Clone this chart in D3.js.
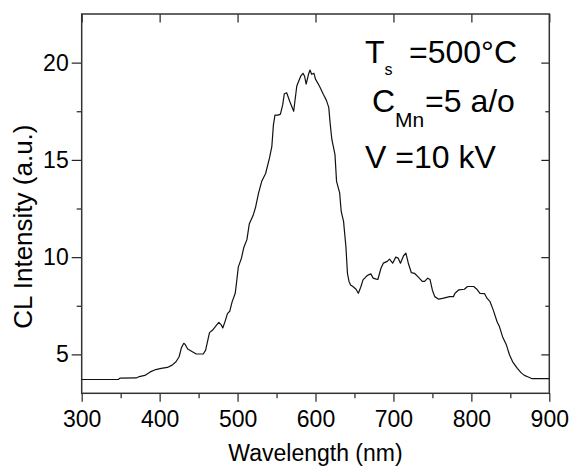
<!DOCTYPE html>
<html>
<head>
<meta charset="utf-8">
<script src="https://cdn.jsdelivr.net/npm/d3@7"></script>
<style>
  body { margin: 0; background: #fff; }
  svg { display: block; }
</style>
</head>
<body>
<div id="chart"></div>
<script>
// CL spectrum
const wavelength = [300, 347, 349, 370, 374, 381, 388, 395, 402, 410, 416, 421, 425, 428, 431, 433, 436, 442, 447, 456,
  459, 464, 468, 473, 476, 479, 481, 484, 487, 490, 493, 497, 499, 501, 505, 508, 512, 515, 520, 523,
  527, 531, 536, 541, 544, 546, 548, 552, 555, 558, 560, 563, 567, 572, 576, 581, 584, 586, 588, 591,
  593, 595, 598, 600, 605, 610, 614, 617, 619, 621, 625, 627, 631, 633, 636, 639, 641, 643, 645, 648,
  652, 655, 658, 661, 665, 668, 671, 674, 678, 680, 684, 687, 692, 695, 699, 703, 706, 709, 713, 716,
  719, 723, 727, 732, 737, 740, 744, 747, 750, 753, 758, 763, 767, 772, 777, 779, 784, 791, 795, 803,
  807, 811, 817, 820, 824, 828, 833, 836, 840, 845, 849, 853, 859, 864, 868, 873, 878, 900];
const intensity = [3.71, 3.71, 3.78, 3.79, 3.86, 3.92, 4.10, 4.22, 4.28, 4.33, 4.45, 4.62, 4.88, 5.35, 5.57, 5.50, 5.28, 5.14, 5.02, 5.02,
  5.22, 6.12, 6.25, 6.50, 6.65, 6.52, 6.36, 6.70, 7.10, 7.22, 7.70, 8.14, 8.80, 9.50, 9.95, 10.50, 10.90, 11.70, 12.15, 12.55,
  13.30, 13.90, 14.30, 15.10, 15.70, 16.80, 17.30, 17.30, 17.35, 17.85, 18.40, 18.45, 18.00, 17.50, 18.80, 19.30, 19.45, 19.30, 18.90, 19.40,
  19.62, 19.40, 19.45, 19.15, 18.80, 18.37, 18.06, 17.70, 16.80, 16.05, 15.27, 13.90, 13.30, 12.35, 11.84, 10.55, 9.17, 8.75, 8.57, 8.49,
  8.35, 8.14, 8.45, 8.83, 9.00, 9.09, 9.14, 8.92, 8.87, 8.85, 9.43, 9.69, 9.78, 9.90, 9.69, 10.00, 9.95, 9.69, 10.07, 10.20,
  9.70, 9.20, 9.17, 8.97, 8.75, 8.75, 8.92, 8.85, 8.30, 7.97, 7.84, 7.88, 7.92, 7.97, 7.97, 8.14, 8.32, 8.35, 8.49, 8.49,
  8.35, 8.14, 8.12, 7.89, 7.71, 7.29, 6.68, 6.43, 5.91, 5.48, 4.97, 4.62, 4.28, 4.05, 3.92, 3.84, 3.75, 3.75];

const xMajor = [300, 400, 500, 600, 700, 800, 900];
const xMinor = [350, 450, 550, 650, 750, 850];
const yMajor = [5, 10, 15, 20];
const yMinor = [7.5, 12.5, 17.5];

const width = 575, height = 468;
const margin = { top: 14, right: 25.7, bottom: 74.7, left: 81.7 };
const font = "'Liberation Sans', Arial, sans-serif";

const svg = d3.select("#chart").append("svg")
  .attr("width", width)
  .attr("height", height)
  .style("background", "#fff");

const x = d3.scaleLinear([300, 900], [margin.left, width - margin.right]);
const y = d3.scaleLinear([3, 22.5], [height - margin.bottom, margin.top]);

const x0 = margin.left, x1 = width - margin.right;
const y0 = height - margin.bottom, y1 = margin.top;

// bottom axis, outward ticks
svg.append("g").attr("transform", `translate(0,${y0})`)
  .call(d3.axisBottom(x).tickValues(xMinor).tickSize(5).tickFormat(""))
  .call(g => g.select(".domain").remove());
svg.append("g").attr("transform", `translate(0,${y0})`)
  .call(d3.axisBottom(x).tickValues(xMajor).tickSize(8.5).tickPadding(9).tickFormat(d3.format("d")))
  .call(g => g.select(".domain").remove())
  .call(g => g.selectAll("text").attr("font-size", 23).attr("font-family", font).attr("fill", "#000"));

// top axis, inward ticks
svg.append("g").attr("transform", `translate(0,${y1})`)
  .call(d3.axisBottom(x).tickValues(xMinor).tickSize(5).tickFormat(""))
  .call(d3.axisBottom(x).tickValues(xMajor).tickSize(8.5).tickFormat(""))
  .call(g => g.select(".domain").remove());

// left axis, outward ticks
svg.append("g").attr("transform", `translate(${x0},0)`)
  .call(d3.axisLeft(y).tickValues(yMinor).tickSize(5).tickFormat(""))
  .call(g => g.select(".domain").remove());
svg.append("g").attr("transform", `translate(${x0},0)`)
  .call(d3.axisLeft(y).tickValues(yMajor).tickSize(10).tickPadding(3).tickFormat(d3.format("d")))
  .call(g => g.select(".domain").remove())
  .call(g => g.selectAll("text").attr("font-size", 23).attr("font-family", font).attr("fill", "#000"));

// right axis, inward ticks
svg.append("g").attr("transform", `translate(${x1},0)`)
  .call(d3.axisLeft(y).tickValues(yMinor).tickSize(4).tickFormat(""))
  .call(g => g.select(".domain").remove());
svg.append("g").attr("transform", `translate(${x1},0)`)
  .call(d3.axisLeft(y).tickValues(yMajor).tickSize(8).tickFormat(""))
  .call(g => g.select(".domain").remove());

svg.selectAll(".tick line").attr("stroke", "#222").attr("stroke-width", 1.2);

// frame
svg.append("rect")
  .attr("x", x0).attr("y", y1)
  .attr("width", x1 - x0).attr("height", y0 - y1)
  .attr("fill", "none")
  .attr("stroke", "#333")
  .attr("stroke-width", 1.5);

// spectrum
const line = d3.line()
  .x((d, i) => x(wavelength[i]))
  .y(d => y(d));

svg.append("path")
  .datum(intensity)
  .attr("fill", "none")
  .attr("stroke", "#111")
  .attr("stroke-width", 1.2)
  .attr("stroke-linejoin", "round")
  .attr("d", line);

// axis titles
svg.append("text")
  .attr("x", (x0 + x1) / 2)
  .attr("y", 461)
  .attr("text-anchor", "middle")
  .attr("font-family", font)
  .attr("font-size", 23)
  .text("Wavelength (nm)");

svg.append("text")
  .attr("transform", `translate(32,${(y0 + y1) / 2 + 23}) rotate(-90)`)
  .attr("text-anchor", "middle")
  .attr("font-family", font)
  .attr("font-size", 26)
  .text("CL Intensity (a.u.)");

// annotation
const note = svg.append("g").attr("font-family", font).attr("font-size", 32).attr("fill", "#000");

const t1 = note.append("text").attr("x", 365).attr("y", 63);
t1.append("tspan").text("T");
t1.append("tspan").attr("font-size", 16).attr("dy", 12).text("s");
t1.append("tspan").attr("x", 409).attr("dy", -12).text("=500°C");

const t2 = note.append("text").attr("x", 372).attr("y", 112);
t2.append("tspan").text("C");
t2.append("tspan").attr("font-size", 21).attr("dy", 15).text("Mn");
t2.append("tspan").attr("x", 425).attr("dy", -15).text("=5 a/o");

note.append("text").attr("x", 365).attr("y", 168).text("V =10 kV");
</script>
</body>
</html>
